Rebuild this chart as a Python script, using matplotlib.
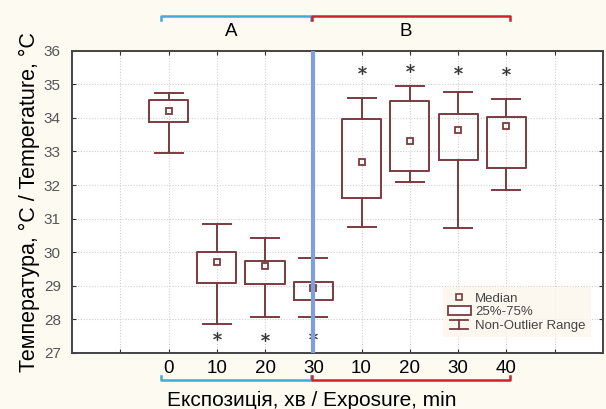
import matplotlib
matplotlib.use('Agg')
import matplotlib.pyplot as plt
from matplotlib.lines import Line2D
from matplotlib.patches import Rectangle
from matplotlib.legend_handler import HandlerBase
import matplotlib.transforms as mtransforms

plt.rcParams['font.family'] = ['Liberation Sans', 'DejaVu Sans']

# box stats (8 groups: A 0..30, B 10..40)
tick_labels = ['0', '10', '20', '30', '10', '20', '30', '40']
whislo = [32.94, 27.86, 28.08, 28.08, 30.74, 32.08, 30.71, 31.85]
q1 = [33.88, 29.08, 29.05, 28.59, 31.60, 32.42, 32.75, 32.52]
med = [34.20, 29.70, 29.58, 28.93, 32.70, 33.32, 33.65, 33.75]
q3 = [34.54, 30.00, 29.75, 29.12, 33.98, 34.50, 34.13, 34.02]
whishi = [34.74, 30.83, 30.42, 29.83, 34.58, 34.95, 34.77, 34.55]
outliers = [[], [27.50], [27.48], [27.52], [35.43], [35.50], [35.42], [35.41]]

box_col = '#7b3b40'

fig = plt.figure(figsize=(6.06, 4.09), dpi=100, facecolor='#fdfaf2')
ax = fig.add_axes([0.1188, 0.137, 0.876, 0.739])
ax.set_facecolor('white')

pos = list(range(len(tick_labels)))
stats = []
for i in pos:
    stats.append(dict(whislo=whislo[i], q1=q1[i], med=med[i], q3=q3[i],
                      whishi=whishi[i], fliers=[]))

ax.bxp(stats, positions=pos, widths=0.81, showfliers=False,
       boxprops=dict(color=box_col, linewidth=1.4),
       whiskerprops=dict(color=box_col, linewidth=1.4),
       capprops=dict(color=box_col, linewidth=1.4),
       medianprops=dict(linewidth=0),
       capwidths=0.58, zorder=3)

ax.plot(pos, med, 's', ms=4.5, mfc='none', mec=box_col, mew=1.3, zorder=4)

for i, outs in enumerate(outliers):
    for v in outs:
        ax.plot(i, v, marker='$*$', ms=6, mew=0.3, color='#333333', ls='none', zorder=4)

# vertical separator between A and B
ax.axvline(3, color='#7f9fdc', lw=3, zorder=5)

ax.set_xlim(-2, 9)
ax.set_ylim(27, 36)
ax.set_xticks([-1] + pos + [8])
ax.set_xticklabels([''] + tick_labels + [''], fontsize=13.5)
ax.set_yticks(range(27, 37))
ax.tick_params(axis='y', labelsize=11, labelcolor='#555555', pad=8)
ax.tick_params(direction='in', length=3, top=True, right=True, color='#333333')
ax.tick_params(axis='x', pad=5)
ax.grid(True, color='#cfcfcf', linestyle=(0, (1, 1.5)), linewidth=0.8)
ax.set_axisbelow(True)
for s in ax.spines.values():
    s.set_color('#444444')
    s.set_linewidth(1.4)

ax.set_xlabel('Експозиція, хв / Exposure, min', fontsize=15)
ax.xaxis.set_label_coords(0.452, -0.125)
ax.set_ylabel('Температура, °C / Temperature, °C', fontsize=15.5, labelpad=3)

# group brackets above and below
tr = mtransforms.blended_transform_factory(ax.transData, ax.transAxes)


def bracket(x0, x1, y, dy, color):
    ax.plot([x0, x0, x1, x1], [y + dy, y, y, y + dy], color=color, lw=1.8,
            transform=tr, clip_on=False)


bracket(-0.165, 2.96, 1.115, -0.014, '#3aaed8')
bracket(2.98, 7.07, 1.115, -0.014, '#d0202e')
bracket(-0.165, 2.96, -0.089, 0.013, '#3aaed8')
bracket(2.98, 7.07, -0.089, 0.013, '#d0202e')
ax.text(1.3, 1.062, 'A', transform=tr, ha='center', va='center', fontsize=13.5)
ax.text(4.92, 1.062, 'B', transform=tr, ha='center', va='center', fontsize=13.5)


# legend with a whisker-range symbol
class WhiskerHandler(HandlerBase):
    def create_artists(self, legend, orig, xd, yd, w, h, fontsize, trans):
        cx = xd + w / 2
        lines = [
            Line2D([cx, cx], [yd, yd + h], color=box_col, lw=1.3),
            Line2D([cx - w * 0.4, cx + w * 0.4], [yd + h, yd + h], color=box_col, lw=1.3),
            Line2D([cx - w * 0.4, cx + w * 0.4], [yd, yd], color=box_col, lw=1.3),
        ]
        for ln in lines:
            ln.set_transform(trans)
        return lines


h_med = Line2D([], [], marker='s', ms=4, mfc='none', mec=box_col, mew=1.2, ls='none')
h_box = Rectangle((0, 0), 1, 1, facecolor='white', edgecolor=box_col, lw=1.3)
h_whisk = Line2D([], [])
leg = ax.legend([h_med, h_box, h_whisk], ['Median', '25%-75%', 'Non-Outlier Range'],
                handler_map={h_whisk: WhiskerHandler()},
                loc='lower right', bbox_to_anchor=(0.99, 0.03), fontsize=9.5,
                frameon=True, facecolor='#fcf7ec', edgecolor='none', fancybox=False,
                handlelength=1.7, handletextpad=0.35, labelspacing=0.1,
                borderpad=0.4)
for t in leg.get_texts():
    t.set_color('#444444')
leg.set_zorder(6)

fig.savefig('out.png', dpi=100, facecolor=fig.get_facecolor())
